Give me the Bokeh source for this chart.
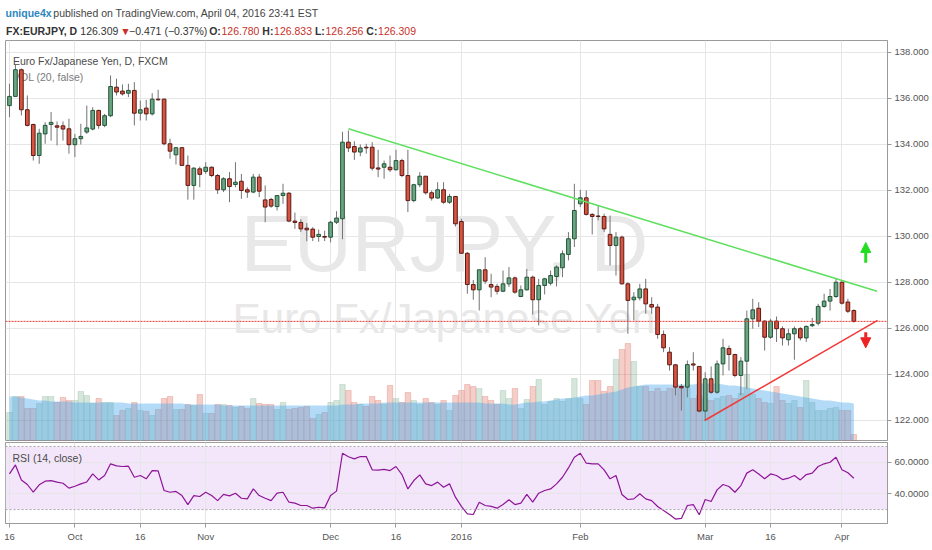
from bokeh.plotting import figure
from bokeh.models import (ColumnDataSource, Range1d, FixedTicker, Label, Span, Arrow,
                          NormalHead, PrintfTickFormatter, BoxAnnotation)
from bokeh.layouts import column
from bokeh.embed import file_html
from bokeh.resources import INLINE

FONT = "Liberation Sans"

# ---------------- data ----------------
opens = [
    135.69, 136.09, 137.25, 135.51, 134.87, 133.52, 134.46, 134.87, 134.81, 134.81,
    134.68, 133.99, 134.25, 134.54, 134.67, 135.48, 134.83, 135.25, 136.49, 136.32,
    136.23, 136.35, 135.36, 135.58, 135.33, 135.97, 135.97, 134.03, 133.55, 133.86,
    133.09, 132.22, 132.94, 132.83, 133.01, 132.65, 132.03, 132.51, 132.26, 132.40,
    132.03, 131.93, 132.58, 131.59, 131.61, 131.30, 131.78, 131.88, 130.67, 130.61,
    130.36, 130.32, 130.00, 130.00, 129.97, 130.62, 130.77, 134.10, 133.91, 133.67,
    133.88, 133.88, 132.98, 133.01, 133.01, 132.90, 133.30, 132.65, 131.56, 132.25,
    132.62, 131.90, 131.67, 132.03, 131.49, 131.74, 130.65, 129.27, 127.91, 127.68,
    128.55, 127.91, 127.83, 127.62, 127.94, 128.20, 127.39, 127.68, 128.23, 127.25,
    127.87, 127.97, 128.26, 128.64, 129.22, 129.90, 131.42, 131.68, 130.96, 130.89,
    130.87, 130.09, 129.61, 129.97, 127.94, 127.25, 127.33, 127.72, 127.04, 126.93,
    125.74, 124.97, 124.42, 123.48, 123.45, 124.46, 124.35, 122.41, 123.81, 123.23,
    124.46, 125.13, 124.87, 123.96, 124.58, 126.42, 126.88, 126.32, 125.62, 126.32,
    125.99, 125.51, 125.77, 125.99, 125.59, 126.12, 126.23, 126.96, 127.19, 127.39,
    128.01, 127.15, 126.780]
highs = [
    136.64, 137.48, 137.30, 136.13, 134.90, 134.68, 134.97, 135.41, 135.00, 135.00,
    135.12, 134.46, 134.90, 135.69, 135.62, 135.51, 135.33, 137.00, 136.86, 136.61,
    136.64, 136.71, 135.91, 135.94, 136.23, 136.38, 136.00, 134.25, 133.88, 133.88,
    133.52, 133.01, 133.04, 133.23, 133.04, 132.72, 132.58, 132.80, 133.23, 132.72,
    132.14, 132.72, 132.72, 132.22, 131.68, 131.78, 132.29, 131.93, 131.04, 130.75,
    130.58, 130.40, 130.30, 130.25, 130.68, 131.10, 134.55, 134.61, 134.14, 134.00,
    134.03, 134.10, 133.77, 133.30, 133.52, 133.77, 133.38, 133.77, 132.29, 132.80,
    132.62, 132.00, 132.36, 132.36, 131.85, 131.74, 130.77, 129.32, 128.11, 128.55,
    129.10, 128.38, 127.94, 128.52, 128.67, 128.26, 127.87, 128.59, 128.30, 128.16,
    128.20, 128.52, 128.74, 129.39, 130.19, 132.29, 132.03, 132.00, 131.01, 131.35,
    130.99, 130.91, 130.19, 130.04, 128.01, 127.58, 127.94, 128.16, 127.36, 127.07,
    125.91, 125.19, 124.46, 123.59, 124.61, 124.97, 124.35, 124.10, 124.35, 124.61,
    125.55, 125.26, 124.90, 124.75, 126.78, 127.29, 127.14, 126.35, 126.42, 126.52,
    126.09, 125.99, 126.09, 126.06, 126.13, 126.46, 127.07, 127.51, 127.72, 128.16,
    128.09, 127.29, 126.833]
lows = [
    135.19, 136.06, 135.26, 134.78, 133.30, 133.16, 134.03, 134.17, 133.96, 134.17,
    133.60, 133.45, 134.00, 134.46, 134.61, 134.68, 134.75, 135.19, 136.13, 136.13,
    136.06, 134.83, 135.04, 135.04, 135.26, 135.91, 133.96, 133.38, 133.13, 133.09,
    131.60, 131.60, 132.14, 132.72, 132.58, 131.85, 131.93, 131.49, 132.14, 131.64,
    131.68, 131.88, 131.71, 130.62, 131.25, 131.13, 131.42, 130.62, 130.33, 130.20,
    129.79, 129.80, 129.77, 129.80, 129.74, 130.54, 129.88, 133.67, 133.33, 133.49,
    133.60, 132.87, 132.58, 132.51, 132.80, 132.87, 132.58, 131.06, 131.49, 132.14,
    131.82, 131.56, 131.64, 131.42, 131.42, 130.43, 129.25, 127.51, 127.25, 126.78,
    127.94, 127.36, 127.48, 127.58, 127.80, 127.51, 127.36, 127.65, 126.61, 126.13,
    127.48, 127.87, 127.83, 128.23, 128.96, 129.54, 131.28, 130.91, 130.09, 130.70,
    130.19, 128.74, 128.30, 127.91, 125.77, 126.35, 127.22, 126.64, 126.64, 125.55,
    124.97, 124.17, 123.09, 122.43, 123.01, 124.17, 122.36, 122.00, 123.16, 123.16,
    123.96, 124.17, 123.88, 123.09, 123.38, 125.99, 126.06, 125.04, 125.55, 125.41,
    125.26, 125.26, 124.64, 125.48, 125.41, 126.06, 126.13, 126.90, 126.78, 127.33,
    127.04, 126.67, 126.256]
closes = [
    136.09, 137.25, 135.51, 134.83, 133.52, 134.49, 134.83, 134.96, 134.75, 134.67,
    133.99, 134.25, 134.35, 134.72, 135.48, 134.83, 135.25, 136.52, 136.28, 136.20,
    136.35, 135.36, 135.51, 135.33, 135.97, 135.94, 134.03, 133.71, 133.86, 133.09,
    132.22, 132.97, 132.70, 133.01, 132.65, 132.03, 132.51, 132.17, 132.36, 132.00,
    131.93, 132.58, 131.97, 131.28, 131.32, 131.78, 131.88, 130.67, 130.61, 130.33,
    130.29, 129.97, 130.09, 129.97, 130.62, 130.80, 134.10, 133.85, 133.67, 133.85,
    133.85, 132.97, 132.93, 133.16, 132.90, 133.30, 132.65, 131.56, 132.25, 132.62,
    131.90, 131.67, 132.03, 131.49, 131.74, 130.55, 129.27, 127.91, 127.68, 128.55,
    128.06, 127.80, 127.62, 127.94, 128.20, 127.58, 127.68, 128.23, 127.25, 127.87,
    128.16, 128.30, 128.67, 129.25, 129.90, 131.13, 131.68, 130.96, 130.87, 130.87,
    130.33, 129.61, 129.97, 127.94, 127.22, 127.36, 127.72, 127.07, 126.93, 125.74,
    125.16, 124.42, 123.45, 123.42, 124.43, 124.41, 122.41, 123.81, 123.23, 124.46,
    125.16, 124.87, 123.96, 124.58, 126.42, 126.81, 126.32, 125.62, 126.32, 125.99,
    125.59, 125.77, 125.99, 125.59, 126.09, 126.17, 126.96, 127.19, 127.39, 128.01,
    127.10, 126.75, 126.309]
volumes = [
    28, 44, 44, 32, 32, 37, 44, 44, 38, 43,
    40, 40, 49, 45, 37, 42, 38, 38, 25, 30,
    32, 38, 30, 29, 25, 31, 42, 44, 31, 31,
    36, 35, 46, 27, 27, 36, 36, 35, 33, 34,
    32, 42, 37, 36, 36, 31, 38, 31, 32, 33,
    34, 22, 26, 28, 38, 40, 56, 50, 38, 36,
    34, 44, 40, 36, 55, 42, 38, 48, 40, 36,
    42, 38, 36, 40, 30, 45, 50, 56, 54, 52,
    44, 40, 36, 50, 42, 52, 32, 41, 54, 61,
    36, 39, 42, 39, 42, 62, 42, 36, 60, 60,
    49, 54, 81, 91, 97, 79, 54, 54, 49, 52,
    49, 52, 52, 54, 52, 42, 45, 42, 40, 42,
    44, 45, 42, 47, 66, 46, 42, 38, 37, 54,
    40, 37, 40, 33, 60, 38, 30, 30, 32, 33,
    30, 30, 6]
volume_ma = [
    44, 44, 43, 42, 41, 40, 40, 39, 39, 39,
    39, 38, 38, 38, 38, 38, 38, 38, 38, 38,
    37, 37, 37, 37, 37, 37, 37, 37, 37, 37,
    36, 36, 36, 36, 36, 36, 35, 35, 35, 35,
    35, 35, 35, 35, 35, 35, 35, 35, 35, 35,
    35, 35, 35, 35, 35, 35, 36, 36, 36, 37,
    37, 37, 37, 38, 38, 38, 38, 38, 38, 38,
    38, 38, 38, 38, 38, 38, 38, 38, 38, 38,
    37, 37, 37, 37, 36, 36, 37, 38, 38, 39,
    39, 40, 41, 42, 42, 43, 44, 45, 45, 46,
    47, 48, 49, 51, 53, 54, 55, 56, 56, 56,
    56, 56, 56, 56, 56, 56, 57, 57, 57, 57,
    56, 55, 55, 54, 53, 52, 51, 50, 49, 48,
    47, 46, 45, 44, 43, 42, 41, 40, 40, 39,
    38, 38, 37]
rsi = [
    52.6, 58.3, 48.8, 45.9, 41.0, 45.7, 48.0, 48.4, 47.4, 46.7,
    43.6, 44.8, 46.3, 47.5, 52.6, 48.8, 51.6, 59.0, 57.7, 57.3,
    57.5, 50.5, 51.6, 49.5, 54.7, 54.5, 42.1, 41.0, 41.5, 38.9,
    33.2, 38.9, 38.3, 41.0, 38.9, 35.7, 39.6, 38.7, 40.4, 37.2,
    36.8, 43.1, 38.9, 37.2, 35.7, 40.4, 41.0, 34.7, 34.1, 32.6,
    32.6, 30.9, 31.5, 31.1, 38.9, 41.7, 65.7, 63.5, 62.1, 63.6,
    63.6, 55.2, 55.0, 55.5, 54.7, 57.3, 52.2, 43.1, 48.4, 52.0,
    46.3, 45.2, 47.4, 44.2, 46.3, 37.9, 32.0, 27.3, 26.9, 34.7,
    32.6, 32.0, 30.9, 33.2, 36.2, 33.2, 34.1, 39.6, 34.7, 40.4,
    42.1, 43.1, 46.3, 50.5, 56.4, 63.2, 65.7, 59.4, 59.0, 59.0,
    55.2, 49.5, 51.6, 39.6, 36.4, 36.8, 40.0, 36.8, 35.7, 32.0,
    29.4, 26.9, 24.0, 24.4, 32.6, 33.2, 26.7, 36.4, 35.1, 42.5,
    45.9, 44.6, 41.0, 45.2, 53.1, 55.2, 52.6, 49.5, 52.6, 51.6,
    49.0, 49.9, 51.6, 48.8, 52.2, 53.1, 57.3, 59.0, 60.0, 63.2,
    55.2, 53.3, 49.9]

tick_index = [0, 11, 22, 33, 54, 65, 76, 96, 117, 128, 140]
tick_labels = ["16", "Oct", "16", "Nov", "Dec", "16", "2016", "Feb", "Mar", "16", "Apr"]
price_ticks = [122, 124, 126, 128, 130, 132, 134, 136, 138]
rsi_ticks = [40, 60]
rsi_bands = [30, 70]

# hand-drawn trend lines / arrows (bar index, price)
resistance_x = [57.0, 145.9]
resistance_y = [134.68, 127.62]
support_x = [116.9, 146.0]
support_y = [122.00, 126.35]
arrow_up_x, arrow_up_y = 144.0, [128.86, 129.74]
arrow_dn_x, arrow_dn_y = 144.0, [125.84, 125.16]

# ---------------- styles ----------------
UP, DOWN = "#6ba583", "#d75442"
UP_BORDER, DOWN_BORDER = "#225437", "#5b1a13"
WICK = "#737375"
GRID = "#e6e6e6"
FRAME = "#9b9b9b"
TXT = "#555555"
TICK_SIZE = "9.5px"

idx = list(range(len(closes)))
is_up = [c >= o for o, c in zip(opens, closes)]
src = ColumnDataSource(dict(
    x=idx, open=opens, high=highs, low=lows, close=closes,
    top=[max(o, c) for o, c in zip(opens, closes)],
    bottom=[min(o, c) for o, c in zip(opens, closes)],
    color=[UP if u else DOWN for u in is_up],
    border=[UP_BORDER if u else DOWN_BORDER for u in is_up],
    vol=volumes, vol_ma=volume_ma, rsi=rsi,
))

x_range = Range1d(-0.67, 147.66)
FRAME_W = 882
LEFT = 5

# ---------------- header ----------------
hdr = figure(width=930, height=40, x_range=Range1d(0, 930), y_range=Range1d(40, 0),
             x_axis_location=None, y_axis_location=None, toolbar_location=None,
             output_backend="svg", min_border=0, outline_line_color=None)
hdr.grid.visible = False

HSIZE = 10.5
_REG = {".": 278, ",": 278, ":": 278, "(": 333, ")": 333, "%": 889, " ": 278,
        "\u2212": 584, "\u25bc": 770, "a": 556, "b": 556, "c": 500, "d": 556, "e": 556,
        "g": 556, "h": 556, "i": 222, "l": 222, "m": 833, "n": 556, "o": 556, "p": 556,
        "r": 333, "s": 500, "u": 556, "w": 722, "A": 667, "E": 667, "S": 667, "T": 611,
        "V": 667}
_BOLD = {".": 278, ",": 278, ":": 333, " ": 278, "u": 611, "n": 611, "i": 278, "q": 611,
         "e": 556, "x": 556, "F": 611, "X": 667, "E": 667, "U": 722, "R": 722, "J": 556,
         "P": 667, "Y": 667, "D": 722, "O": 778, "H": 722, "L": 611, "C": 722}

def text_width(text, bold):
    table = _BOLD if bold else _REG
    return sum(556 if ch.isdigit() else table.get(ch, 556) for ch in text) * HSIZE / 1000.0

def header_line(pieces, y, x0):
    x = x0
    for text, color, bold, gap in pieces:
        hdr.add_layout(Label(x=x, y=y, text=text, text_font=FONT,
                             text_font_size=f"{HSIZE}px", text_color=color,
                             text_font_style="bold" if bold else "normal",
                             text_baseline="middle", text_align="left"))
        x += text_width(text, bold) * 1.03 + gap

RED = "#c8302a"
DARK = "#333333"
header_line([("unique4x", "#2e86c1", True, 3),
             ("published on TradingView.com, April 04, 2016 23:41 EST", "#444444", False, 0)],
            12.5, 0)
header_line([("FX:EURJPY, D", DARK, True, 4), ("126.309", DARK, False, 3),
             ("\u25bc", RED, False, 1), ("\u22120.471 (\u22120.37%)", DARK, False, 4),
             ("O:", DARK, True, 1), ("126.780", RED, False, 4),
             ("H:", DARK, True, 1), ("126.833", RED, False, 4),
             ("L:", DARK, True, 1), ("126.256", RED, False, 4),
             ("C:", DARK, True, 1), ("126.309", RED, False, 0)], 30, 0.5)

# ---------------- main price pane ----------------
p = figure(frame_width=FRAME_W, frame_height=400, x_range=x_range,
           y_range=Range1d(121.13, 138.52), x_axis_location=None, y_axis_location="right",
           toolbar_location=None, output_backend="svg",
           min_border_left=LEFT, min_border_right=0, min_border_top=0, min_border_bottom=1)
p.outline_line_color = FRAME
p.extra_y_ranges = {"vol": Range1d(0, 400)}
p.xgrid.ticker = FixedTicker(ticks=tick_index)
p.ygrid.ticker = FixedTicker(ticks=price_ticks)
p.grid.grid_line_color = GRID
p.yaxis.ticker = FixedTicker(ticks=price_ticks)
p.yaxis.formatter = PrintfTickFormatter(format="%.3f")
p.yaxis.major_label_text_font = FONT
p.yaxis.major_label_text_font_size = TICK_SIZE
p.yaxis.major_label_text_color = TXT
p.yaxis.axis_line_color = FRAME
p.yaxis.major_tick_line_color = FRAME
p.yaxis.major_tick_out = 4
p.yaxis.major_tick_in = 0
p.yaxis.minor_tick_line_color = None
p.yaxis.major_label_standoff = 3

# watermark + pane captions (under the bars)
p.add_layout(Label(x=439, y=197, x_units="screen", y_units="screen", text="EURJPY, D",
                   text_font=FONT, text_font_size="80px", text_color="#e8e8e8",
                   text_align="center", text_baseline="alphabetic", level="underlay"))
p.add_layout(Label(x=439, y=122, x_units="screen", y_units="screen", text="Euro Fx/Japanese Yen",
                   text_font=FONT, text_font_size="42px", text_color="#e8e8e8",
                   text_align="center", text_baseline="alphabetic", level="underlay"))
p.add_layout(Label(x=7.5, y=380, x_units="screen", y_units="screen",
                   text="Euro Fx/Japanese Yen, D, FXCM", text_font=FONT,
                   text_font_size="10.5px", text_color="#4a4a4a", text_baseline="middle",
                   level="underlay"))
p.add_layout(Label(x=7.5, y=363.5, x_units="screen", y_units="screen",
                   text="VOL (20, false)", text_font=FONT,
                   text_font_size="10.5px", text_color="#7a7a7a", text_baseline="middle",
                   level="underlay"))

# volume + its moving average
p.vbar(x="x", top="vol", bottom=0, width=0.92, y_range_name="vol", source=src,
       fill_color="color", fill_alpha=0.28, line_color="color", line_alpha=0.35, line_width=0.7)
p.varea(x="x", y1=0, y2="vol_ma", y_range_name="vol", source=src,
        fill_color="#4aa8ec", fill_alpha=0.42)

# candles
p.segment(x0="x", y0="low", x1="x", y1="high", source=src, line_color=WICK, line_width=1)
p.vbar(x="x", top="top", bottom="bottom", width=0.62, source=src,
       fill_color="color", line_color="border", line_width=1)

# drawings
p.line(resistance_x, resistance_y, line_color="#5fe05f", line_width=1.5)
p.line(support_x, support_y, line_color="#f03a3a", line_width=1.5)
p.add_layout(Span(location=closes[-1], dimension="width", line_color="#e53935",
                  line_dash="2 1", line_width=1))
p.add_layout(Arrow(end=NormalHead(size=10, fill_color="#22dd22", line_color="#22dd22"),
                   x_start=arrow_up_x, y_start=arrow_up_y[0], x_end=arrow_up_x,
                   y_end=arrow_up_y[1], line_color="#22dd22", line_width=3))
p.add_layout(Arrow(end=NormalHead(size=10, fill_color="#ee2222", line_color="#ee2222"),
                   x_start=arrow_dn_x, y_start=arrow_dn_y[0], x_end=arrow_dn_x,
                   y_end=arrow_dn_y[1], line_color="#ee2222", line_width=3))

# ---------------- RSI pane ----------------
r = figure(frame_width=FRAME_W, frame_height=81, x_range=x_range,
           y_range=Range1d(21.2, 72.5), y_axis_location="right",
           toolbar_location=None, output_backend="svg",
           min_border_left=LEFT, min_border_right=0, min_border_top=1, min_border_bottom=0)
r.outline_line_color = FRAME
r.add_layout(BoxAnnotation(bottom=rsi_bands[0], top=rsi_bands[1], fill_color="#f4e6fa",
                           fill_alpha=1.0, line_color=None, level="image"))
r.xgrid.ticker = FixedTicker(ticks=tick_index)
r.ygrid.ticker = FixedTicker(ticks=rsi_ticks)
r.grid.grid_line_color = GRID
for lvl in rsi_bands:
    r.add_layout(Span(location=lvl, dimension="width", line_color="#a8a8a8",
                      line_dash="2 2", line_width=1))
r.line("x", "rsi", source=src, line_color="#8e1599", line_width=1.2)
r.add_layout(Label(x=7, y=66, x_units="screen", y_units="screen", text="RSI (14, close)",
                   text_font=FONT, text_font_size="10.5px", text_color="#4a4a4a",
                   text_baseline="middle"))

r.yaxis.ticker = FixedTicker(ticks=rsi_ticks)
r.yaxis.formatter = PrintfTickFormatter(format="%.4f")
r.xaxis.ticker = FixedTicker(ticks=tick_index)
r.xaxis.major_label_overrides = {t: lab for t, lab in zip(tick_index, tick_labels)}
for ax in (r.xaxis, r.yaxis):
    ax.major_label_text_font = FONT
    ax.major_label_text_font_size = TICK_SIZE
    ax.major_label_text_color = TXT
    ax.axis_line_color = FRAME
    ax.major_tick_line_color = FRAME
    ax.major_tick_out = 4
    ax.major_tick_in = 0
    ax.minor_tick_line_color = None
    ax.major_label_standoff = 3

layout = column(hdr, p, r, spacing=0)
open("out.html", "w").write(file_html(layout, INLINE))
